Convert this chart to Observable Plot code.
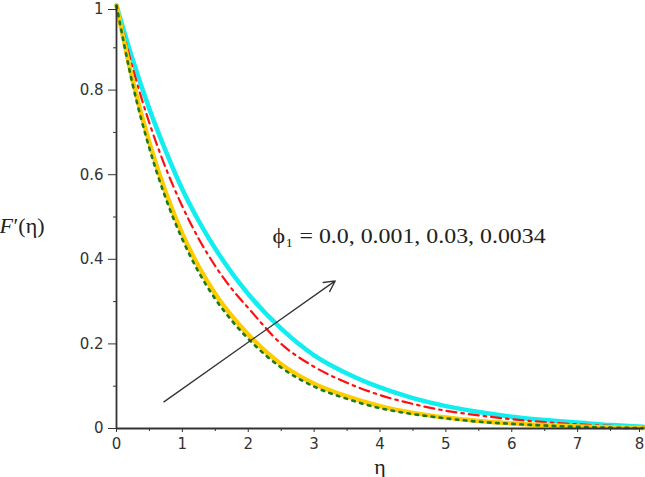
<!DOCTYPE html>
<html>
<head>
<meta charset="utf-8">
<script src="https://cdn.jsdelivr.net/npm/d3@7"></script>
<script src="https://cdn.jsdelivr.net/npm/@observablehq/plot@0.6"></script>
<style>
  html, body { margin: 0; padding: 0; background: #fff; }
  #chart svg { display: block; }
</style>
</head>
<body>
<div id="chart"></div>
<script>
// η grid and the four profiles F'(η)
const eta = [0, 0.25, 0.5, 0.75, 1, 1.25, 1.5, 1.75, 2, 2.5, 3, 3.5, 4, 4.5, 5, 5.5, 6, 6.5, 7, 7.5, 8];
const phi0   = [1, 0.81, 0.662, 0.543, 0.447, 0.369, 0.306, 0.255, 0.212, 0.144, 0.099, 0.07, 0.048, 0.034, 0.024, 0.016, 0.011, 0.007, 0.004, 0.002, 0.001];   // green dotted
const phi001 = [1, 0.82, 0.675, 0.557, 0.46, 0.382, 0.318, 0.266, 0.222, 0.152, 0.106, 0.076, 0.053, 0.037, 0.026, 0.018, 0.012, 0.008, 0.005, 0.003, 0.001]; // yellow
const phi03  = [1, 0.85, 0.722, 0.615, 0.525, 0.448, 0.384, 0.33, 0.285, 0.2, 0.146, 0.108, 0.079, 0.058, 0.042, 0.031, 0.022, 0.015, 0.01, 0.006, 0.002];  // red dash-dot
const phi0034= [1, 0.87, 0.755, 0.655, 0.565, 0.49, 0.425, 0.368, 0.318, 0.236, 0.173, 0.13, 0.097, 0.072, 0.053, 0.039, 0.028, 0.02, 0.014, 0.008, 0.004]; // cyan

const xTicks = [0, 1, 2, 3, 4, 5, 6, 7];
const xLastTick = [8];
const xMinor = [0.5, 1.5, 2.5, 3.5, 4.5, 5.5, 6.5, 7.5];
const yTicks = [0, 0.2, 0.4, 0.6, 0.8];
const yTickLabels = ["0", "0.2", "0.4", "0.6", "0.8"];
const yTopTick = [1];
const yMinor = [0.1, 0.3, 0.5, 0.7, 0.9];

const annotation = "ϕ₁ = 0.0, 0.001, 0.03, 0.0034";
const arrowData = [{x1: 0.72, y1: 0.063, x2: 3.32, y2: 0.349}];

const mk = (arr) => eta.map((e, i) => ({eta: e, v: arr[i]}));

const tickFont = {fontFamily: "DejaVu Sans", fontSize: 15};

const plot = Plot.plot({
  width: 645,
  height: 477,
  marginLeft: 116,
  marginRight: 2,
  marginTop: 5,
  marginBottom: 49,
  x: {domain: [0, 8]},
  y: {domain: [0, 1]},
  style: {background: "#fff", color: "#333"},
  marks: [
    Plot.line(mk(phi0034), {x: "eta", y: "v", stroke: "#12eef0", strokeWidth: 4.5, curve: "monotone-x"}),
    Plot.line(mk(phi03), {x: "eta", y: "v", stroke: "#ff1010", strokeWidth: 2.2, strokeDasharray: "10 5 2.5 5", curve: "monotone-x"}),
    Plot.line(mk(phi001), {x: "eta", y: "v", stroke: "#ffcc00", strokeWidth: 4.5, curve: "monotone-x"}),
    Plot.line(mk(phi0), {x: "eta", y: "v", stroke: "#1e7a1e", strokeWidth: 2.6, strokeDasharray: "2.6 5.5", curve: "monotone-x"}),
    Plot.arrow(arrowData, {x1: "x1", y1: "y1", x2: "x2", y2: "y2", stroke: "#333", strokeWidth: 1.3, headLength: 14, headAngle: 55}),
    Plot.text([annotation], {x: 2.37, y: 0.455, text: d => d, textAnchor: "start", fontFamily: "Liberation Serif", fontSize: 21, fill: "#222", className: "anno"}),
    Plot.axisX({ticks: xTicks, tickSize: 4, tickPadding: 6, label: null, ...tickFont}),
    Plot.axisX({ticks: xLastTick, tickSize: 4, tickPadding: 6, label: null, dx: -4, ...tickFont}),
    Plot.axisX({ticks: xMinor, tickSize: 3, text: null, label: null}),
    Plot.axisY({ticks: yTicks, tickFormat: (d, i) => yTickLabels[i], tickSize: 8, tickPadding: 5, label: null, ...tickFont}),
    Plot.axisY({ticks: yTopTick, tickFormat: d => String(d), tickSize: 8, tickPadding: 5, label: null, dy: 4, ...tickFont}),
    Plot.axisY({ticks: yMinor, tickSize: 3, text: null, label: null}),
    Plot.ruleX([0], {stroke: "#333", strokeWidth: 1.8}),
    Plot.ruleY([0], {stroke: "#333", strokeWidth: 1.8}),
    Plot.text(["F"], {frameAnchor: "left", y: 0.48, dx: -117, textAnchor: "start", fontFamily: "Liberation Serif", fontSize: 22, fontStyle: "italic", fill: "#222"}),
    Plot.text(["′(η)"], {frameAnchor: "left", y: 0.48, dx: -103, textAnchor: "start", fontFamily: "Liberation Serif", fontSize: 22, fill: "#222"}),
    Plot.text(["η"], {x: 4, frameAnchor: "bottom", dy: 45, fontFamily: "Liberation Serif", fontSize: 22, fill: "#222"})
  ]
});
// the reference's annotation is drawn horizontally stretched
plot.querySelectorAll(".anno text").forEach(t => {
  t.setAttribute("textLength", "273");
  t.setAttribute("lengthAdjust", "spacingAndGlyphs");
});
document.getElementById("chart").appendChild(plot);
</script>
</body>
</html>
